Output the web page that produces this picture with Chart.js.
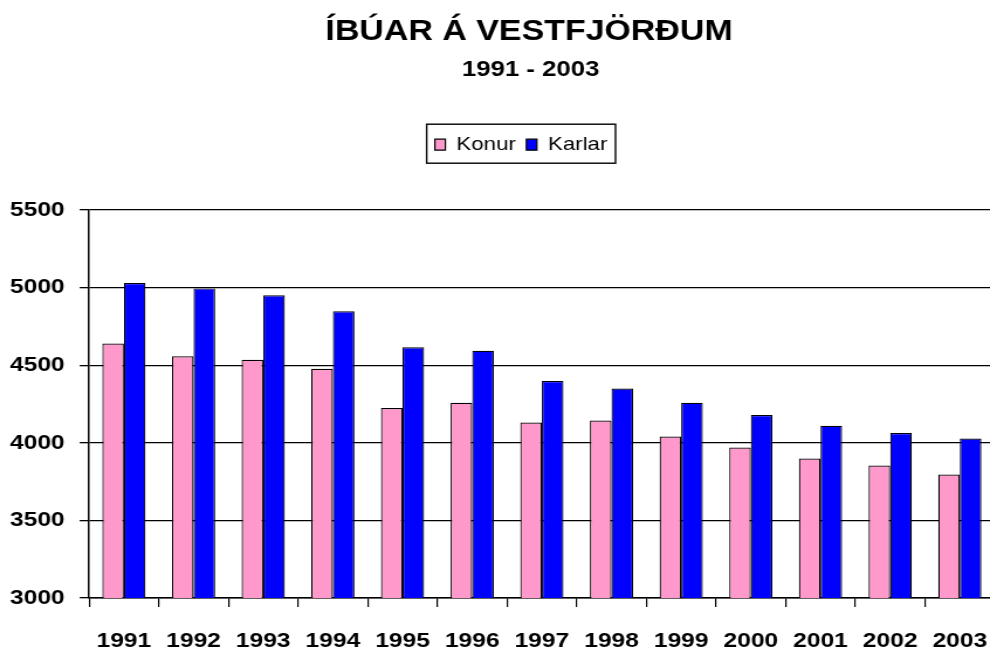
<!DOCTYPE html>
<html>
<head>
<meta charset="utf-8">
<script src="https://cdn.jsdelivr.net/npm/chart.js@4/dist/chart.umd.min.js"></script>
<style>
  html, body { margin: 0; padding: 0; background: #ffffff; overflow: hidden; width: 990px; height: 655px; }
  #c { display: block; }
</style>
</head>
<body>
<canvas id="c" width="852" height="655" style="width:997px;height:655px"></canvas>
<script>
// ---- data ----
const TITLE = 'ÍBÚAR Á VESTFJÖRÐUM';
const SUBTITLE = '1991 - 2003';
const years = ['1991', '1992', '1993', '1994', '1995', '1996', '1997', '1998', '1999', '2000', '2001', '2002', '2003'];
const konur = [4640, 4557, 4535, 4477, 4224, 4258, 4131, 4144, 4040, 3970, 3899, 3854, 3796];
const karlar = [5030, 4995, 4950, 4847, 4615, 4593, 4398, 4350, 4258, 4179, 4110, 4063, 4028];
const seriesNames = ['Konur', 'Karlar'];
const yTicks = [3000, 3500, 4000, 4500, 5000, 5500];

const SANS = '"Liberation Sans", Arial, Helvetica, sans-serif';
Chart.defaults.color = '#000000';
Chart.defaults.font.family = SANS;

const layoutTweak = {
  id: 'layoutTweak',
  afterLayout(chart) {
    const shift = (b, dx, dy) => { if (!b) return; b.left += dx; b.right += dx; b.top += dy; b.bottom += dy; };
    shift(chart.titleBlock, 27.1, 0);
    chart.boxes.forEach(b => {
      if (b !== chart.titleBlock && b.options && b.options.text === SUBTITLE) shift(b, 28.5, 0);
    });
    shift(chart.legend, 20.3, -45.8);
  },
  afterDraw(chart) {
    const lg = chart.legend;
    if (!lg || !lg.legendHitBoxes || !lg.legendHitBoxes.length) return;
    const hb = lg.legendHitBoxes;
    let l = Infinity, r = -Infinity, t = Infinity, btm = -Infinity;
    hb.forEach(h => { l = Math.min(l, h.left); r = Math.max(r, h.left + h.width); t = Math.min(t, h.top); btm = Math.max(btm, h.top + h.height); });
    const ctx = chart.ctx;
    ctx.save();
    ctx.strokeStyle = '#000000';
    ctx.lineWidth = 1.4;
    ctx.strokeRect(l - 7, t - 11, (r - l) + 14, (btm - t) + 20);
    ctx.restore();
  }
};

new Chart(document.getElementById('c'), {
  type: 'bar',
  data: {
    labels: years,
    datasets: [
      { label: seriesNames[0], data: konur, backgroundColor: '#FF99CC', borderColor: '#000000', borderWidth: 1.2, categoryPercentage: 0.62, barPercentage: 1.0 },
      { label: seriesNames[1], data: karlar, backgroundColor: '#0000FF', borderColor: '#000000', borderWidth: 1.2, categoryPercentage: 0.62, barPercentage: 1.0 }
    ]
  },
  options: {
    responsive: false,
    devicePixelRatio: 1,
    animation: false,
    events: [],
    layout: { padding: { left: 0, right: 2, top: 0, bottom: 0 } },
    plugins: {
      title: {
        display: true, text: TITLE, color: '#000000',
        font: { family: SANS, size: 29, weight: 'bold', lineHeight: 1.2 },
        padding: { top: 14.6, bottom: 3 }
      },
      subtitle: {
        display: true, text: SUBTITLE, color: '#000000',
        font: { family: SANS, size: 22, weight: 'bold', lineHeight: 1.2 },
        padding: { top: 3.9, bottom: 89.3 }
      },
      legend: {
        display: true, position: 'top',
        labels: {
          color: '#000000', boxWidth: 9, boxHeight: 11, padding: 9,
          font: { family: SANS, size: 19, weight: 'normal' }
        }
      },
      tooltip: { enabled: false }
    },
    scales: {
      x: {
        type: 'category',
        grid: { display: true, drawOnChartArea: false, drawTicks: true, tickLength: 9, color: '#000000', lineWidth: 1.2, offset: true },
        border: { display: true, color: '#000000', width: 1.5 },
        ticks: { color: '#000000', font: { family: SANS, size: 21, weight: 'bold', lineHeight: 1.15 }, padding: 22.1, maxRotation: 0, minRotation: 0, autoSkip: false },
        afterFit(scale) { scale.height = 57; scale.paddingLeft = 0; scale.paddingRight = 0; }
      },
      y: {
        min: yTicks[0], max: yTicks[yTicks.length - 1], beginAtZero: false,
        afterBuildTicks(scale) { scale.ticks = yTicks.map(v => ({ value: v })); },
        afterFit(scale) { scale.width = 76.1; },
        grid: { color: '#000000', lineWidth: 1.3, tickLength: 8, drawTicks: true },
        border: { display: true, color: '#000000', width: 1.5 },
        ticks: { color: '#000000', font: { family: SANS, size: 21, weight: 'bold' }, padding: 12.8, callback: (v) => String(v) }
      }
    }
  },
  plugins: [layoutTweak]
});
</script>
</body>
</html>
